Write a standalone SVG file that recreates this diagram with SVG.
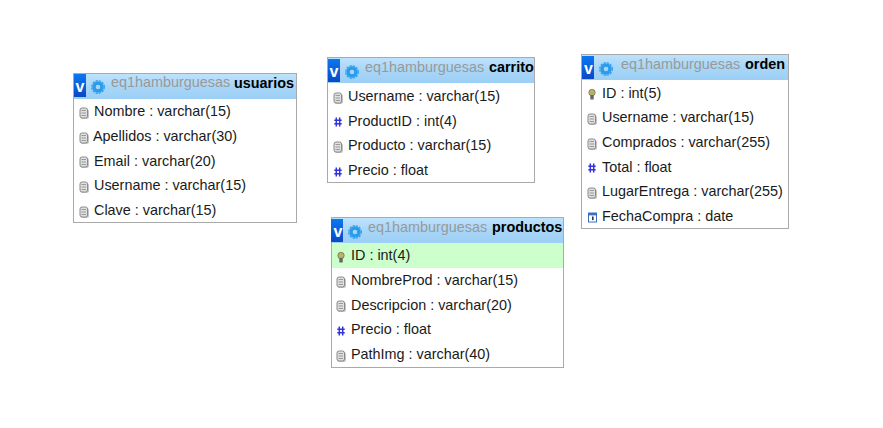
<svg xmlns="http://www.w3.org/2000/svg" width="883" height="428" viewBox="0 0 883 428">
<style>
text{font-family:"Liberation Sans",Arial,sans-serif;font-size:14.4px;fill:#1a1a1a}
.box{fill:#fff;stroke:#aaa;stroke-width:1}
.hd{fill:url(#hdg)}
.tg{fill:#999}
.tb{font-weight:bold;fill:#000}
.vb{fill:url(#vbg)}
.v{font-weight:bold;font-size:16px;fill:#fff;text-anchor:middle}
</style>
<defs>
<linearGradient id="hdg" x1="0" y1="0" x2="0" y2="1"><stop offset="0" stop-color="#bde2fb"/><stop offset="0.5" stop-color="#a8d6f8"/><stop offset="1" stop-color="#9ccff5"/></linearGradient>
<linearGradient id="vbg" x1="0" y1="0" x2="0" y2="1"><stop offset="0" stop-color="#0a78f0"/><stop offset="1" stop-color="#0a48c8"/></linearGradient>
<g id="head">
<rect class="vb" x="0" y="0" width="12" height="23"/>
<circle cx="24" cy="13" r="4" fill="none" stroke="#2a9cec" stroke-width="3.400"/>
<circle cx="24" cy="13" r="6.300" fill="none" stroke="#2a9cec" stroke-width="1.200" stroke-dasharray="2.200 1.100"/>
</g>
<g id="ic-text">
<rect x="-3.500" y="-4" width="8.500" height="10" rx="2.500" fill="#c4c4c4"/>
<rect x="-4" y="-5" width="7.500" height="10" rx="2" fill="#e0e0e0" stroke="#8a8a8a" stroke-width="1"/>
<path d="M-2.500 -2.500h4.500M-2.500 0h4.500M-2.500 2.500h4.500" stroke="#888" stroke-width="0.800" fill="none"/>
</g>
<g id="ic-num" stroke="#3333dd" stroke-width="1.500" fill="none">
<path d="M-1.700 -4.500V4.500M1.700 -4.500V4.500M-3.700 -1.700H3.700M-3.700 1.700H3.700"/>
</g>
<g id="ic-key">
<circle cx="0" cy="-1.500" r="3.200" fill="#b9b26a" stroke="#77754a" stroke-width="0.800"/>
<rect x="-1.700" y="1" width="3.400" height="4.500" fill="#666"/>
</g>
<g id="ic-date">
<rect x="-3.500" y="-4" width="8" height="9" fill="#fff" stroke="#3a6fc4" stroke-width="1"/>
<rect x="-3.500" y="-4" width="8" height="2.400" fill="#3a6fc4"/>
<rect x="0" y="-0.500" width="1.600" height="3.600" fill="#333"/>
</g>
</defs>
<g id="connectors"/>
<g id="usuarios">
<rect class="box" x="73.500" y="73.500" width="223" height="149"/>
<rect class="hd" x="74" y="74" width="222" height="25"/>
<use href="#head" x="74" y="74"/>
<text class="v" x="80" y="92">v</text>
<text class="tg" x="111" y="87">eq1hamburguesas</text><text class="tb" x="234" y="87.500">usuarios</text>
<use href="#ic-text" x="84" y="113"/><text x="94" y="116">Nombre : varchar(15)</text>
<use href="#ic-text" x="84" y="138"/><text x="93" y="141">Apellidos : varchar(30)</text>
<use href="#ic-text" x="84" y="162"/><text x="94" y="166">Email : varchar(20)</text>
<use href="#ic-text" x="84" y="187"/><text x="94" y="190">Username : varchar(15)</text>
<use href="#ic-text" x="84" y="212"/><text x="94" y="215">Clave : varchar(15)</text>
</g>
<g id="carrito">
<rect class="box" x="327.500" y="57.500" width="207" height="125"/>
<rect class="hd" x="328" y="58" width="206" height="25"/>
<use href="#head" x="328" y="59"/>
<text class="v" x="334" y="77">v</text>
<text class="tg" x="365" y="72">eq1hamburguesas</text><text class="tb" x="489" y="72">carrito</text>
<use href="#ic-text" x="338" y="98"/><text x="348" y="101">Username : varchar(15)</text>
<use href="#ic-num" x="338" y="122"/><text x="348" y="126">ProductID : int(4)</text>
<use href="#ic-text" x="338" y="147"/><text x="348" y="150">Producto : varchar(15)</text>
<use href="#ic-num" x="338" y="172"/><text x="348" y="175">Precio : float</text>
</g>
<g id="orden">
<rect class="box" x="581.500" y="54.500" width="207" height="174"/>
<rect class="hd" x="582" y="55" width="206" height="25"/>
<use href="#head" x="582" y="56"/>
<text class="v" x="588.500" y="74">v</text>
<text class="tg" x="621" y="69">eq1hamburguesas</text><text class="tb" x="745" y="69">orden</text>
<use href="#ic-key" x="592" y="94"/><text x="602" y="98">ID : int(5)</text>
<use href="#ic-text" x="592" y="119"/><text x="602" y="122">Username : varchar(15)</text>
<use href="#ic-text" x="592" y="144"/><text x="602" y="147">Comprados : varchar(255)</text>
<use href="#ic-num" x="592" y="168"/><text x="602" y="172">Total : float</text>
<use href="#ic-text" x="592" y="193"/><text x="602" y="196">LugarEntrega : varchar(255)</text>
<use href="#ic-date" x="592" y="217"/><text x="602" y="221">FechaCompra : date</text>
</g>
<g id="productos">
<rect class="box" x="331.500" y="217.500" width="232" height="150"/>
<rect class="hd" x="332" y="218" width="231" height="25"/>
<rect x="332" y="243" width="231" height="25" fill="#cfc"/>
<use href="#head" x="331" y="219"/>
<text class="v" x="338" y="237">v</text>
<text class="tg" x="368" y="232">eq1hamburguesas</text><text class="tb" x="492" y="232">productos</text>
<use href="#ic-key" x="341" y="257"/><text x="351" y="260">ID : int(4)</text>
<use href="#ic-text" x="341" y="282"/><text x="351" y="285">NombreProd : varchar(15)</text>
<use href="#ic-text" x="341" y="306"/><text x="351" y="310">Descripcion : varchar(20)</text>
<use href="#ic-num" x="341" y="331"/><text x="351" y="334">Precio : float</text>
<use href="#ic-text" x="341" y="356"/><text x="351" y="359">PathImg : varchar(40)</text>
</g>
</svg>
